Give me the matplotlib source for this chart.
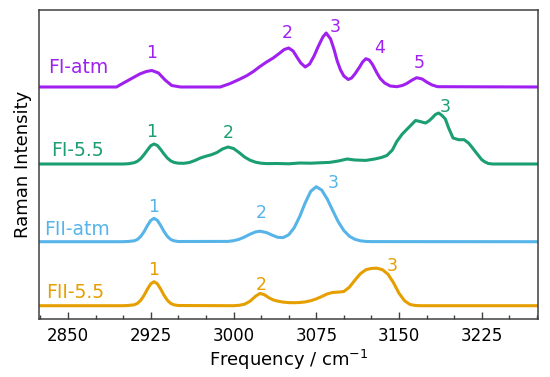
import matplotlib.pyplot as plt  # Affichage des graphiques
from matplotlib.ticker import MultipleLocator  # Graduations secondaires

# Fréquences (cm-1) et intensités relevées sur chaque spectre
fi_atm_freq = [2820, 2894, 2897, 2906, 2915, 2921, 2926, 2932, 2938, 2944, 2952, 2988, 2997, 3005, 3012,
               3018, 3024, 3030, 3036, 3042, 3046, 3050, 3054, 3058, 3061, 3065, 3069, 3073, 3077, 3081,
               3084, 3088, 3091, 3094, 3097, 3100, 3104, 3107, 3110, 3114, 3117, 3120, 3123, 3126, 3130,
               3133, 3137, 3142, 3148, 3153, 3157, 3162, 3166, 3171, 3175, 3180, 3185, 3280]
fi_atm_int = [0, 0, 2, 7.5, 13, 15.5, 16.5, 14, 7, 1.5, 0, 0, 3.5, 7.5, 11.3,
              15.5, 20.5, 25, 29, 34, 37.5, 39, 36, 29, 24, 20, 23, 31, 41, 50,
              54, 48, 38, 26, 17, 11, 7.5, 9, 13, 19.5, 25, 28.3, 27, 22.5, 14,
              8.5, 4, 1, 0.3, 1.5, 3.5, 7, 9.3, 8, 5, 2, 0.3, 0]

fi_55_freq = [2820, 2900, 2905, 2910, 2913, 2916, 2919, 2922, 2925, 2928, 2931, 2934, 2937, 2940, 2943,
              2946, 2950, 2955, 2960, 2965, 2970, 2975, 2980, 2985, 2990, 2995, 3000, 3005, 3010, 3015,
              3020, 3025, 3030, 3040, 3050, 3060, 3070, 3080, 3087, 3095, 3103, 3110, 3120, 3128, 3134,
              3139, 3144, 3148, 3153, 3157, 3161, 3165, 3169, 3174, 3177, 3180, 3183, 3186, 3189, 3192,
              3195, 3199, 3204, 3209, 3213, 3216, 3219, 3222, 3225, 3228, 3231, 3235, 3280]
fi_55_int = [0, 0, 0.3, 1.3, 2.8, 5.5, 9.5, 14, 18.3, 20, 18.5, 14.5, 10, 6, 3.2,
             1.6, 0.8, 0.7, 1.5, 3.5, 6, 7.8, 9.3, 11.5, 15, 17, 15.5, 11.5, 7, 3.8,
             1.8, 0.8, 0.4, 0.5, 0.2, 1, 0.8, 1.3, 1.6, 3, 5, 4, 3.6, 5, 6.5,
             8.5, 14, 22.5, 30, 34.5, 39, 43.5, 42.5, 41, 43, 46, 49.5, 51, 48.5, 45,
             36, 26, 24.3, 24.3, 21, 17, 12.7, 8.5, 4.3, 2, 0.5, 0, 0]

fii_atm_freq = [2820, 2900, 2905, 2910, 2913, 2916, 2919, 2922, 2925, 2928, 2931, 2934, 2937, 2940, 2943,
                2946, 2950, 2995, 3000, 3005, 3010, 3015, 3020, 3024, 3030, 3035, 3040, 3045, 3050, 3055,
                3060, 3065, 3070, 3075, 3080, 3085, 3090, 3095, 3100, 3105, 3110, 3115, 3120, 3125, 3280]
fii_atm_int = [0, 0, 0.3, 0.9, 2.3, 5.4, 10.2, 16.2, 21.3, 23.4, 21.3, 16.2, 10.2, 5.4, 2.3,
               0.9, 0.2, 0.3, 1.0, 2.4, 4.7, 7.5, 9.8, 10.5, 9.1, 6.6, 4.4, 4.1, 6.9, 13.9,
               25.2, 38.9, 50.4, 55, 51.6, 42.6, 31, 19.8, 11.2, 5.5, 2.4, 0.9, 0.3, 0.1, 0]

fii_55_freq = [2820, 2900, 2905, 2910, 2913, 2916, 2919, 2922, 2925, 2928, 2931, 2934, 2937, 2940, 2943,
               2946, 2950, 3000, 3005, 3010, 3015, 3020, 3024, 3028, 3032, 3036, 3040, 3045, 3050, 3055,
               3060, 3065, 3070, 3075, 3080, 3085, 3090, 3095, 3100, 3105, 3110, 3115, 3120, 3125, 3130,
               3135, 3140, 3145, 3150, 3155, 3160, 3165, 3170, 3280]
fii_55_int = [0, 0, 0.3, 0.9, 2.4, 5.5, 10.5, 16.6, 21.9, 24, 21.9, 16.6, 10.5, 5.5, 2.4,
              0.9, 0.2, 0, 0.4, 1.5, 4.5, 9.5, 12.3, 11, 8, 5.8, 4.6, 3.6, 3.1, 3.0,
              3.2, 3.8, 5.0, 6.8, 9.2, 11.8, 13.3, 13.6, 14.2, 18.5, 25.5, 32, 36, 37.3, 37.5,
              36, 31.5, 23, 12.5, 5, 1.2, 0.2, 0, 0]

# Noms des échantillons et numéros des pics
noms = ["FI-atm", "FI-5.5", "FII-atm", "FII-5.5"]
pics_fi_atm = ["1", "2", "3", "4", "5"]
pics_fi_55 = ["1", "2", "3"]
pics_fii_atm = ["1", "2", "3"]
pics_fii_55 = ["1", "2", "3"]

# Décalages verticaux des spectres
decalages = [232, 155, 77.3, 13.3]
couleurs = ["#A020F0", "#1A9E72", "#56B4E9", "#E69F00"]

# Positions des étiquettes (fréquence, hauteur)
pos_noms = [(2832, 251), (2834.5, 169), (2828, 89.7), (2830, 26.3)]
pos_pics = [
    [(2926, 266), (3049, 285.5), (3092, 292), (3132, 271), (3168, 256)],
    [(2926, 187.3), (2995, 185.7), (3192, 212)],
    [(2927.5, 112.3), (3025, 105.7), (3090.5, 136.5)],
    [(2928, 49), (3025, 34), (3144, 53)],
]

spectres = [(fi_atm_freq, fi_atm_int), (fi_55_freq, fi_55_int),
            (fii_atm_freq, fii_atm_int), (fii_55_freq, fii_55_int)]
pics = [pics_fi_atm, pics_fi_55, pics_fii_atm, pics_fii_55]

fig = plt.figure(figsize=(5.5, 3.77), dpi=100)
ax = fig.add_axes([0.0709, 0.1538, 0.9073, 0.8197])

for i in range(len(spectres)):
    freq, inten = spectres[i]
    y = [v + decalages[i] for v in inten]
    ax.plot(freq, y, color=couleurs[i], lw=2.2, solid_joinstyle="round", solid_capstyle="round")
    ax.text(pos_noms[i][0], pos_noms[i][1], noms[i], color=couleurs[i], fontsize=13.5,
            ha="left", va="center")
    for j in range(len(pics[i])):
        ax.text(pos_pics[i][j][0], pos_pics[i][j][1], pics[i][j], color=couleurs[i],
                fontsize=12.5, ha="center", va="center")

# Mise en forme des axes
ax.set_xlim(2823.7, 3276)
ax.set_ylim(0, 309)
ax.set_xticks([2850, 2925, 3000, 3075, 3150, 3225])
ax.xaxis.set_minor_locator(MultipleLocator(25))
ax.set_yticks([])
ax.tick_params(axis="x", which="major", direction="in", length=5, width=1, labelsize=12,
               color="#404040", pad=6)
ax.tick_params(axis="x", which="minor", direction="in", length=3, width=1, color="#404040")
for s in ax.spines.values():
    s.set_color("#404040")
    s.set_linewidth(1.1)

ax.set_xlabel("Frequency / cm$^{-1}$", fontsize=13, labelpad=2)
ax.set_ylabel("Raman Intensity", fontsize=13, labelpad=5)

fig.savefig("out.png", dpi=100)
